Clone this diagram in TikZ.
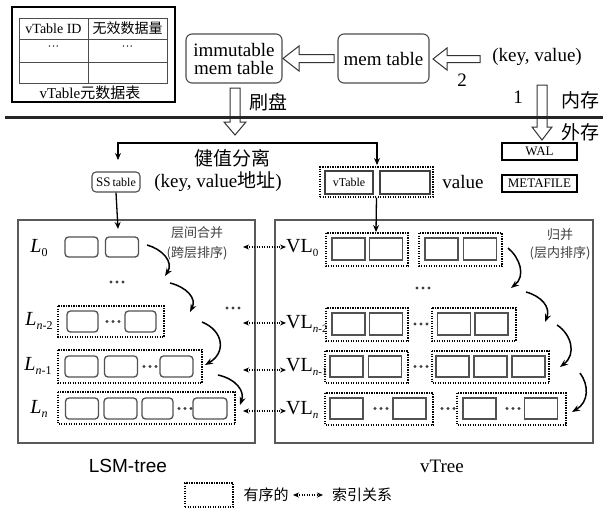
\documentclass[tikz,border=0pt]{standalone}
\usepackage{fontspec}
\setmainfont{Liberation Serif}
\newfontfamily\cjk{Noto Sans CJK SC}
\newfontfamily\arial{Liberation Sans}
\usetikzlibrary{arrows.meta}
\newcommand\fs[1]{\fontsize{#1}{#1}\selectfont}
\newcommand\lsub[1]{\raisebox{-4pt}{\fs{12}#1}}
\newcommand\vsub[1]{\raisebox{-4pt}{\fs{11}#1}}
\begin{document}
\begin{tikzpicture}[x=1pt,y=-1pt,
  lbox/.style={draw=black!68, line width=1.3pt, rounded corners=3.5pt, minimum width=33pt, minimum height=20pt, inner sep=0pt},
  vbox/.style={draw=black!68, line width=1.8pt, minimum width=33pt, minimum height=21pt, inner sep=0pt},
  dbox/.style={draw=black, line width=1.3pt, dash pattern=on 1.3pt off 1.2pt},
  rbox/.style={draw=black!70, line width=1.1pt, rounded corners=6pt, inner sep=0pt, align=center},
  pbox/.style={draw=black, line width=1.1pt, inner sep=0pt, minimum width=75pt, minimum height=17pt, font=\fs{13}},
  blk/.style={draw=black!80, line width=1pt, fill=white},
  arr/.style={line width=1.3pt, -{Stealth[length=7pt,width=6pt]}},
  curv/.style={line width=1.5pt, -{Stealth[length=8pt,width=6pt]}},
  idx/.style={line width=1.2pt, dash pattern=on 1.3pt off 1.2pt, {Stealth[length=6pt,width=5pt]}-{Stealth[length=6pt,width=5pt]}},
  txt/.style={inner sep=0pt, font=\fs{19}},
  ctxt/.style={inner sep=0pt, font=\fs{19}\cjk},
  stxt/.style={inner sep=0pt, font=\fs{13}\cjk, text=black!75},
  llab/.style={inner sep=0pt, font=\fs{20}},
  vlab/.style={inner sep=0pt, font=\fs{20}, anchor=west},
  tdots/.pic={\foreach \dx in {-6,0,6} \fill[black!75] (\dx,0) circle (1.7);}
]
\useasboundingbox (0,0) rectangle (603,517);

% ---- vTable metadata table
\node[draw=black, line width=1.1pt, minimum width=163pt, minimum height=95pt, inner sep=0pt] (meta) at (93.5,54.5) {};
\draw[black!70, line width=0.8pt] (19,18) rectangle (167,83) (19,39) -- (167,39) (19,62) -- (167,62) (88,18) -- (88,83);
\node[inner sep=0pt, font=\fs{14}] (h1) at (53.5,28.5) {vTable ID};
\node[inner sep=0pt, font=\fs{14}\cjk] (h2) at (127.5,28.5) {无效数据量};
\node[inner sep=0pt, font=\fs{12}] (d1) at (53.5,48.5) {···};
\node[inner sep=0pt, font=\fs{12}] (d2) at (127.5,48.5) {···};
\node[inner sep=0pt, font=\fs{15}] (cap) at (90,93) {vTable{\cjk 元数据表}};

% ---- memory part
\node[rbox, minimum width=96pt, minimum height=49pt, font=\fs{19}] (imm) at (234,58.5) {immutable\\[-1pt]mem table};
\node[rbox, minimum width=91pt, minimum height=49pt, font=\fs{19}] (mem) at (383.5,58.5) {mem table};
\node[txt] (kv) at (537,57) {(key, value)};
\node[txt] (two) at (462,80) {2};
\node[txt] (one) at (518,97) {1};
\node[ctxt] (nc) at (580,100) {内存};
\node[ctxt] (wc) at (580,132) {外存};
\node[ctxt] (shua) at (268,102) {刷盘};

% block arrows
\draw[blk] (334,54.5) -- (299,54.5) -- (299,46) -- (283,58.5) -- (299,71) -- (299,62.5) -- (334,62.5) -- cycle;
\draw[blk] (480,55.5) -- (447,55.5) -- (447,48) -- (433,59) -- (447,70) -- (447,62.5) -- (480,62.5) -- cycle;
\draw[blk] (537,85) -- (537,127) -- (532,127) -- (542,140) -- (552,127) -- (547,127) -- (547,85) -- cycle;
\draw[blk] (230,88) -- (230,122) -- (224,122) -- (235,135) -- (246,122) -- (240,122) -- (240,88) -- cycle;

% memory / disk separator
\draw[black!85, line width=3pt] (5,117) -- (603,117);

% ---- disk part
\node[pbox] (wal) at (539.5,151.5) {WAL};
\node[pbox] (mf) at (539.5,183.5) {METAFILE};

\node[ctxt] (kvsep) at (232,158) {健值分离};
\node[rbox, rounded corners=4pt, minimum width=48pt, minimum height=20pt, font=\fs{12}] (ss) at (116,182) {{\fs{13}SS}\,table};
\node[txt] (kva) at (218,182) {(key, value{\cjk 地址})};
\node[dbox, minimum width=113pt, minimum height=30pt, inner sep=0pt] (vtd) at (376.5,182) {};
\node[draw=black!75, line width=1.4pt, minimum width=48pt, minimum height=23pt, inner sep=0pt, font=\fs{12}] (vt1) at (349,182.5) {vTable};
\node[draw=black!75, line width=1.4pt, minimum width=50pt, minimum height=23pt, inner sep=0pt] (vt2) at (405,182.5) {};
\node[txt] (val) at (463,182) {value};

\coordinate (bl) at (118,143);
\coordinate (br) at (377,143);
\draw[arr] (br) -- (bl) -- (118,160);
\draw[arr] (bl) -- (br) -- (377,165);

% ---- LSM-tree
\node[draw=black!65, line width=1.3pt, minimum width=237pt, minimum height=223pt, inner sep=0pt] (lsm) at (136.5,331.5) {};
\node[draw=black!65, line width=1.3pt, minimum width=318pt, minimum height=223pt, inner sep=0pt] (vtree) at (434,331.5) {};
\coordinate (lsmin) at (118,229);
\draw[arr] (ss.south) -- (lsmin);

\node[llab] (L0) at (39,248) {\textit{L}\lsub{0}};
\node[llab] (L2) at (39,321) {\textit{L}\lsub{\textit{n}-2}};
\node[llab] (L1) at (38,366) {\textit{L}\lsub{\textit{n}-1}};
\node[llab] (Ln) at (39,409) {\textit{L}\lsub{\textit{n}}};

\node[lbox] (a01) at (81.5,247) {};
\node[lbox] (a02) at (122,247) {};

\draw[dbox] (58,306) rectangle (164,337);
\node[lbox, minimum width=31pt, minimum height=21pt] (a21) at (82.5,321.5) {};
\node[lbox, minimum width=31pt, minimum height=21pt] (a22) at (140.5,321.5) {};
\pic at (113,321.5) {tdots};

\draw[dbox] (58,350) rectangle (202,383);
\node[lbox, minimum height=21pt] (a11) at (81.5,366.5) {};
\node[lbox, minimum height=21pt] (a12) at (121,366.5) {};
\node[lbox, minimum height=21pt] (a13) at (176.5,366.5) {};
\pic at (150,366.5) {tdots};

\draw[dbox] (58,392) rectangle (235,424);
\node[lbox, minimum height=21pt] (an1) at (82,408.5) {};
\node[lbox, minimum height=21pt] (an2) at (120.5,408.5) {};
\node[lbox, minimum width=31pt, minimum height=21pt] (an3) at (157.5,408.5) {};
\node[lbox, minimum width=34pt, minimum height=21pt] (an4) at (210,408.5) {};
\pic at (185,408.5) {tdots};

\pic at (117,282) {tdots};
\pic at (233,308) {tdots};

\node[stxt] (mg1) at (197,233) {层间合并};
\node[stxt] (mg2) at (197,253) {(跨层排序)};

\coordinate (c1s) at (147,245); \coordinate (c1e) at (165,276);
\coordinate (c2s) at (170,283); \coordinate (c2e) at (190,312);
\coordinate (c3s) at (202,322); \coordinate (c3e) at (205,365);
\coordinate (c4s) at (218,375); \coordinate (c4e) at (240,405);
\draw[curv] (c1s) .. controls (162,249) and (174,262) .. (c1e);
\draw[curv] (c2s) .. controls (186,287) and (197,298) .. (c2e);
\draw[curv] (c3s) .. controls (224,331) and (226,353) .. (c3e);
\draw[curv] (c4s) .. controls (236,379) and (245,391) .. (c4e);

% ---- vTree
\coordinate (vtin) at (376,232);
\draw[arr] (vtd.south) -- (vtin);

\node[vlab] (V0) at (286,248) {VL\vsub{0}};
\node[vlab] (V2) at (286,324) {VL\vsub{\textit{n}-2}};
\node[vlab] (V1) at (286,367) {VL\vsub{\textit{n}-1}};
\node[vlab] (Vn) at (286,410) {VL\vsub{\textit{n}}};

\draw[dbox] (326,233) rectangle (408,266);
\draw[dbox] (419,233) rectangle (502,266);
\node[vbox, minimum height=22pt] (b01) at (348.5,249) {};
\node[vbox, minimum height=22pt] (b02) at (386,249) {};
\node[vbox, minimum height=22pt] (b03) at (441.5,249) {};
\node[vbox, minimum height=22pt] (b04) at (480,249) {};

\draw[dbox] (326,308) rectangle (408,341);
\draw[dbox] (432,308) rectangle (516,341);
\node[vbox, minimum height=22pt] (b21) at (348.5,324) {};
\node[vbox, minimum height=22pt] (b22) at (386,324) {};
\node[vbox, minimum height=22pt] (b23) at (454,324) {};
\node[vbox, minimum height=22pt] (b24) at (491.5,324) {};
\pic at (421,324) {tdots};

\draw[dbox] (325,351) rectangle (408,383);
\draw[dbox] (432,351) rectangle (549,383);
\node[vbox] (b11) at (346.5,366.5) {};
\node[vbox] (b12) at (385,366.5) {};
\node[vbox] (b13) at (452.5,366.5) {};
\node[vbox] (b14) at (490.5,366.5) {};
\node[vbox] (b15) at (528.5,366.5) {};
\pic at (421,366.5) {tdots};

\draw[dbox] (325,393) rectangle (433,425);
\draw[dbox] (457,393) rectangle (566,425);
\node[vbox] (bn1) at (346.5,408.5) {};
\node[vbox] (bn2) at (409.5,408.5) {};
\node[vbox] (bn3) at (479.5,408.5) {};
\node[vbox] (bn4) at (541,408.5) {};
\pic at (381,408.5) {tdots};
\pic at (448,408.5) {tdots};
\pic at (513,408.5) {tdots};

\pic at (423,288) {tdots};

\node[stxt] (gb1) at (560,235) {归并};
\node[stxt] (gb2) at (560,253) {(层内排序)};

\coordinate (d1s) at (508,248); \coordinate (d1e) at (511,288);
\coordinate (d2s) at (526,292); \coordinate (d2e) at (545,322);
\coordinate (d3s) at (557,325); \coordinate (d3e) at (560,367);
\coordinate (d4s) at (580,373); \coordinate (d4e) at (572,412);
\draw[curv] (d1s) .. controls (520,258) and (526,276) .. (d1e);
\draw[curv] (d2s) .. controls (541,296) and (551,307) .. (d2e);
\draw[curv] (d3s) .. controls (571,334) and (577,354) .. (d3e);
\draw[curv] (d4s) .. controls (589,385) and (589,402) .. (d4e);

% index arrows
\coordinate (i0) at (243,247);
\coordinate (i2) at (243,323);
\coordinate (i1) at (243,370);
\coordinate (in) at (243,411);
\draw[idx] (i0) -- (i0 -| V0.west);
\draw[idx] (i2) -- (i2 -| V2.west);
\draw[idx] (i1) -- (i1 -| V1.west);
\draw[idx] (in) -- (in -| Vn.west);

% captions
\node[inner sep=0pt, font=\fs{19}\arial] (lsmcap) at (128,466) {LSM-tree};
\node[txt] (vtcap) at (442,466) {vTree};

% legend
\node[dbox, minimum width=48pt, minimum height=24pt, inner sep=0pt] (lg1) at (209,495) {};
\node[inner sep=0pt, font=\fs{15}\cjk] (lg1t) at (266,495) {有序的};
\coordinate (lga) at (293,495);
\coordinate (lgb) at (323,495);
\draw[idx] (lga) -- (lgb);
\node[inner sep=0pt, font=\fs{15}\cjk] (lg2t) at (362,495) {索引关系};
\end{tikzpicture}
\end{document}
